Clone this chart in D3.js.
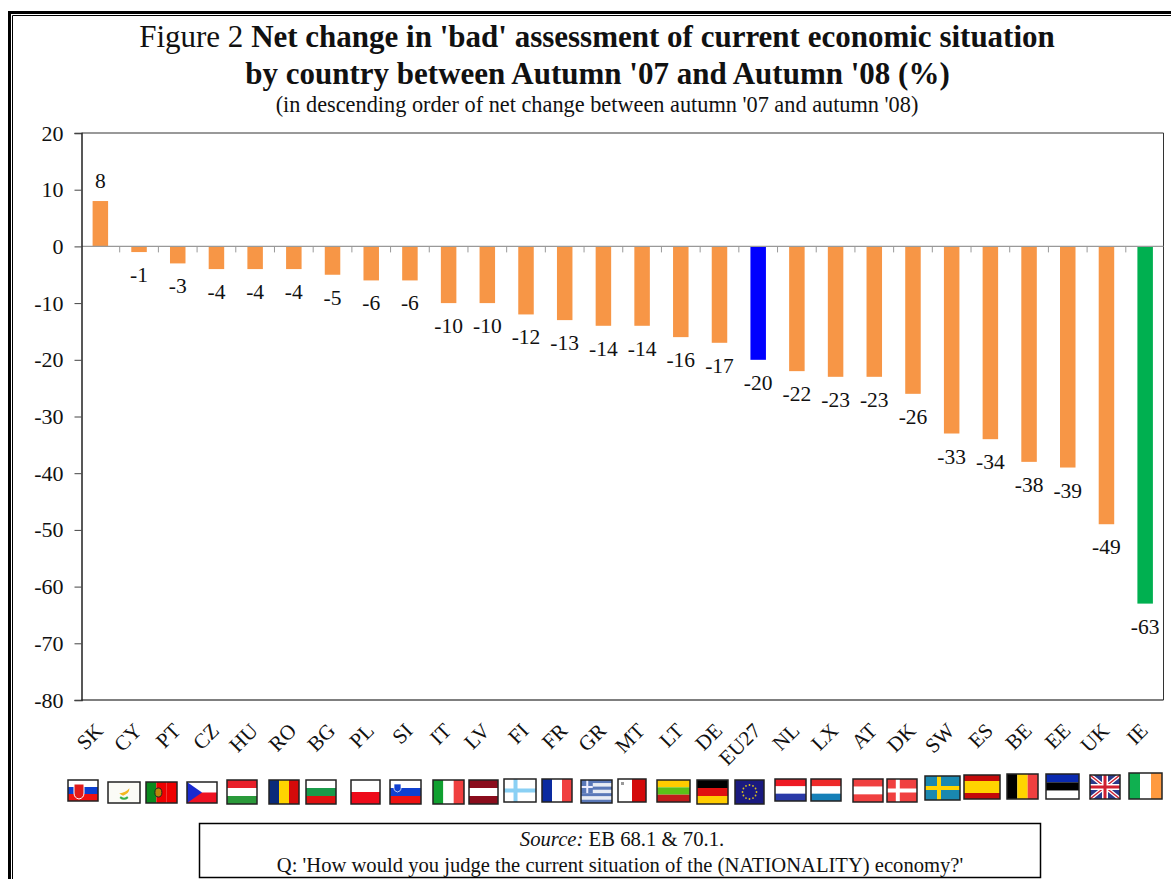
<!DOCTYPE html>
<html><head><meta charset="utf-8">
<script src="https://cdn.jsdelivr.net/npm/d3@7/dist/d3.min.js"></script>
<style>html,body{margin:0;padding:0;background:#fff}svg{display:block}text{font-family:"Liberation Serif","Times New Roman",serif;fill:#111}</style>
</head><body><svg id="c" width="1171" height="879"></svg>
<script>
const categories=["SK","CY","PT","CZ","HU","RO","BG","PL","SI","IT","LV","FI","FR","GR","MT","LT","DE","EU27","NL","LX","AT","DK","SW","ES","BE","EE","UK","IE"];
const values=[8,-1,-3,-4,-4,-4,-5,-6,-6,-10,-10,-12,-13,-14,-14,-16,-17,-20,-22,-23,-23,-26,-33,-34,-38,-39,-49,-63];
const yTicks=[20,10,0,-10,-20,-30,-40,-50,-60,-70,-80];
const titleLine1=["Figure 2 ","Net change in 'bad' assessment of current economic situation"];
const titleLine2="by country between Autumn '07 and Autumn '08 (%)";
const subtitle="(in descending order of net change between autumn '07 and autumn '08)";
const sourceLabel="Source:", sourceText=" EB 68.1 & 70.1.";
const question="Q: 'How would you judge the current situation of the (NATIONALITY) economy?'";
const barColor=c=>c==="EU27"?"#0000ff":c==="IE"?"#00b050":"#f79646";
// flags: left edge, right edge, top, bottom as seen in the picture, stripe direction, stripe colours
const flagBoxes={SK:[68,98,780,801],CY:[108,140,782,803],PT:[146,177,782,803],CZ:[187,217,782,803],HU:[227,257,780,804],RO:[269,299,780,804],BG:[306,336,780,804],PL:[351,380,780,804],SI:[390,421,780,804],IT:[433,464,780,804],LV:[469,498,780,804],FI:[504,536,779,802],FR:[542,572,779,802],GR:[581,612,780,803],MT:[618,646,779,802],LT:[657,690,780,802],DE:[697,728,780,804],EU27:[735,764,780,804],NL:[775,806,779,801],LX:[811,841,779,801],AT:[853,883,779,802],DK:[887,917,779,802],SW:[925,960,776,800],ES:[964,1000,775,799],BE:[1007,1038,774,799],EE:[1046,1079,774,799],UK:[1090,1120,775,799],IE:[1129,1162,773,799]};
const flagStripes={SK:["h",["#fff","#0b3fd0","#ee1111"]],CY:["h",["#fbfbf6"]],PT:["v",["#0a8a1e","#ee0000","#ee0000"]],CZ:["h",["#fff","#ee1122"]],HU:["h",["#e8202a","#fff","#2a9a3a"]],RO:["v",["#0a2a7a","#ffd400","#d40a0a"]],BG:["h",["#fff","#1a9a4a","#e01010"]],PL:["h",["#fff","#ee0a1a"]],SI:["h",["#fff","#1040d0","#ee1111"]],IT:["v",["#10a030","#fff","#f04040"]],LV:["h",["#8a0c1c","#fff","#8a0c1c"]],FI:["h",["#fff"]],FR:["v",["#0a2aa0","#fff","#f04040"]],GR:["h",["#5a78b8","#e8ecf4","#5a78b8","#e8ecf4","#5a78b8","#e8ecf4","#5a78b8"]],MT:["v",["#fff","#d40a0a"]],LT:["h",["#ffcc00","#5ac018","#c01a1a"]],DE:["h",["#000","#e01010","#ffcc00"]],EU27:["h",["#1a1a80"]],NL:["h",["#ee1a24","#fff","#2a3aa8"]],LX:["h",["#ee2a2a","#fff","#1580b8"]],AT:["h",["#f04040","#fff","#f04040"]],DK:["h",["#f04040"]],SW:["h",["#1a88b0"]],ES:["h",["#c40a0a","#ffd400","#ffd400","#c40a0a"]],BE:["v",["#000","#ffd400","#f04040"]],EE:["h",["#0a2ab0","#000","#fff"]],UK:["h",["#2a3a8a"]],IE:["v",["#10b050","#fff","#ff9a40"]]};
const flagCrosses={FI:["#8ad0f4",.36],DK:["#fff",.36],SW:["#ffd400",.4]};

const svg=d3.select("#c");
// page frame
const frame=svg.append("g").attr("fill","none").attr("stroke","#000");
frame.append("path").attr("d","M9.5,879V12.5H1171").attr("stroke-width",3);
frame.append("path").attr("d","M12.5,879V15.5H1171").attr("stroke-width",1);

// titles
const t1=svg.append("text").attr("x",597).attr("y",47).attr("text-anchor","middle").style("font-size","31px");
t1.append("tspan").text(titleLine1[0]);
t1.append("tspan").attr("font-weight","bold").text(titleLine1[1]);
svg.append("text").attr("x",597.5).attr("y",84).attr("text-anchor","middle").attr("font-weight","bold").style("font-size","31px").text(titleLine2);
svg.append("text").attr("x",597).attr("y",112).attr("text-anchor","middle").style("font-size","22.3px").text(subtitle);

// scales
const L=81.5,R=1163.5,T=133,B=700;
const band=d3.scaleBand().domain(categories).range([81,1164.5]);
const y=d3.scaleLinear().domain([-80,20]).range([B,T]);

// plot box
svg.append("path").attr("d",`M${L},${T}H${R}`).attr("stroke","#777").attr("stroke-width",1.5);
svg.append("path").attr("d",`M${L},${B}H${R}`).attr("stroke","#555").attr("stroke-width",1.5);
svg.append("path").attr("d",`M${R},${T}V${B}`).attr("stroke","#333").attr("stroke-width",1);

// bars
svg.append("g").selectAll("rect").data(categories).join("rect")
 .attr("x",c=>band(c)+band.bandwidth()/2-7.75).attr("width",15.5)
 .attr("y",(c,i)=>y(Math.max(0,values[i]))).attr("height",(c,i)=>Math.abs(y(values[i])-y(0)))
 .attr("fill",barColor);

// zero line and band ticks
svg.append("path").attr("d",`M${L},${y(0)}H${R}`).attr("stroke","#999").attr("stroke-width",1.2);
svg.append("g").selectAll("path").data(categories.slice(1)).join("path")
 .attr("d",c=>`M${band(c)},${y(0)}v6`).attr("stroke","#999").attr("stroke-width",1);

// y axis
const ya=svg.append("g").attr("transform",`translate(${L},0)`).call(d3.axisLeft(y).tickValues(yTicks).tickSize(7).tickPadding(11).tickFormat(d=>d));
ya.select(".domain").attr("stroke","#222").attr("stroke-width",1.5);
ya.selectAll(".tick line").attr("stroke","#444");
ya.selectAll("text").attr("font-family",null).style("font-size","22px").attr("fill","#111");

// value labels
svg.append("g").selectAll("text").data(categories).join("text")
 .attr("x",c=>band(c)+band.bandwidth()/2).attr("y",(c,i)=>y(values[i])+(values[i]<0?30:-13))
 .attr("text-anchor","middle").style("font-size","21.5px").text((c,i)=>values[i]);

// category labels
svg.append("g").selectAll("text").data(categories).join("text")
 .attr("text-anchor","end").style("font-size","21px")
 .attr("transform",c=>`translate(${band(c)+band.bandwidth()/2+4},732) rotate(-45)`).text(c=>c);

// flags
const fl=svg.append("g").selectAll("g").data(categories).join("g")
 .attr("transform",c=>`translate(${flagBoxes[c][0]},${flagBoxes[c][2]})`);
fl.each(function(c){
 const [x0,x1,y0,y1]=flagBoxes[c], w=x1-x0, h=y1-y0, g=d3.select(this), [dir,cols]=flagStripes[c];
 const s=d3.scaleBand().domain(d3.range(cols.length)).range([0,dir==="h"?h:w]);
 g.selectAll("rect").data(cols).join("rect")
  .attr("x",(d,i)=>dir==="h"?0:s(i)).attr("y",(d,i)=>dir==="h"?s(i):0)
  .attr("width",dir==="h"?w:s.bandwidth()).attr("height",dir==="h"?s.bandwidth():h).attr("fill",d=>d);
 if(flagCrosses[c]){const [col,f]=flagCrosses[c];
  g.append("rect").attr("x",0).attr("y",h/2-2).attr("width",w).attr("height",4).attr("fill",col);
  g.append("rect").attr("x",w*f-2).attr("y",0).attr("width",4).attr("height",h).attr("fill",col);}
 if(c==="CZ")g.append("path").attr("d",`M0,0L${w/2},${h/2}L0,${h}Z`).attr("fill","#1a2ad0");
 if(c==="SK")g.append("path").attr("d","M6,4h10v9q0,5-5,6q-5-1-5-6Z").attr("fill","#e01a1a").attr("stroke","#fff");
 if(c==="SI")g.append("path").attr("d","M4,4h7v5q0,2-3.5,3q-3.5-1-3.5-3Z").attr("fill","#1040d0").attr("stroke","#fff").attr("stroke-width",.7);
 if(c==="PT")g.append("ellipse").attr("cx",w*.4).attr("cy",h/2).attr("rx",3.5).attr("ry",4.5).attr("fill","#b8860b").attr("stroke","#222");
 if(c==="CY"){g.append("path").attr("d",`M${w*.35},${h*.55}q${w*.2},-${h*.05} ${w*.32},-${h*.25}q0,${h*.25} -${w*.2},${h*.35}Z`).attr("fill","#f5b820");
  g.append("path").attr("d",`M${w*.38},${h*.72}q${w*.12},${h*.15} ${w*.24},0`).attr("fill","none").attr("stroke","#3ab04a").attr("stroke-width",2);}
 if(c==="GR"){g.append("rect").attr("width",w*.38).attr("height",h*.57).attr("fill","#5a78b8");
  g.append("rect").attr("x",w*.17).attr("width",2).attr("height",h*.57).attr("fill","#eef");
  g.append("rect").attr("y",h*.26).attr("width",w*.38).attr("height",2).attr("fill","#eef");}
 if(c==="MT")g.append("rect").attr("x",3).attr("y",3).attr("width",3).attr("height",3).attr("fill","#999");
 if(c==="EU27")g.selectAll(".s").data(d3.range(12)).join("circle").attr("r",.9).attr("fill","#d8c020")
   .attr("cx",i=>w/2+7*Math.cos(i*Math.PI/6)).attr("cy",i=>h/2+7*Math.sin(i*Math.PI/6));
 if(c==="UK"){const a=g.append("g").attr("fill","none");
  a.append("path").attr("d",`M0,0L${w},${h}M${w},0L0,${h}`).attr("stroke","#fff").attr("stroke-width",4);
  a.append("path").attr("d",`M0,0L${w},${h}M${w},0L0,${h}`).attr("stroke","#d02030").attr("stroke-width",1.5);
  a.append("path").attr("d",`M${w/2},0V${h}M0,${h/2}H${w}`).attr("stroke","#fff").attr("stroke-width",6);
  a.append("path").attr("d",`M${w/2},0V${h}M0,${h/2}H${w}`).attr("stroke","#d02030").attr("stroke-width",3);}
 g.append("rect").attr("width",w).attr("height",h).attr("fill","none").attr("stroke","#222").attr("stroke-width",1.5);
});

// source box
svg.append("rect").attr("x",199.5).attr("y",823.5).attr("width",841).attr("height",54).attr("fill","#fff").attr("stroke","#000").attr("stroke-width",1.5);
const st=svg.append("text").attr("x",622).attr("y",846).attr("text-anchor","middle").style("font-size","20.7px");
st.append("tspan").attr("font-style","italic").text(sourceLabel);
st.append("tspan").text(sourceText);
svg.append("text").attr("x",620).attr("y",872).attr("text-anchor","middle").style("font-size","20.6px").text(question);
</script></body></html>
